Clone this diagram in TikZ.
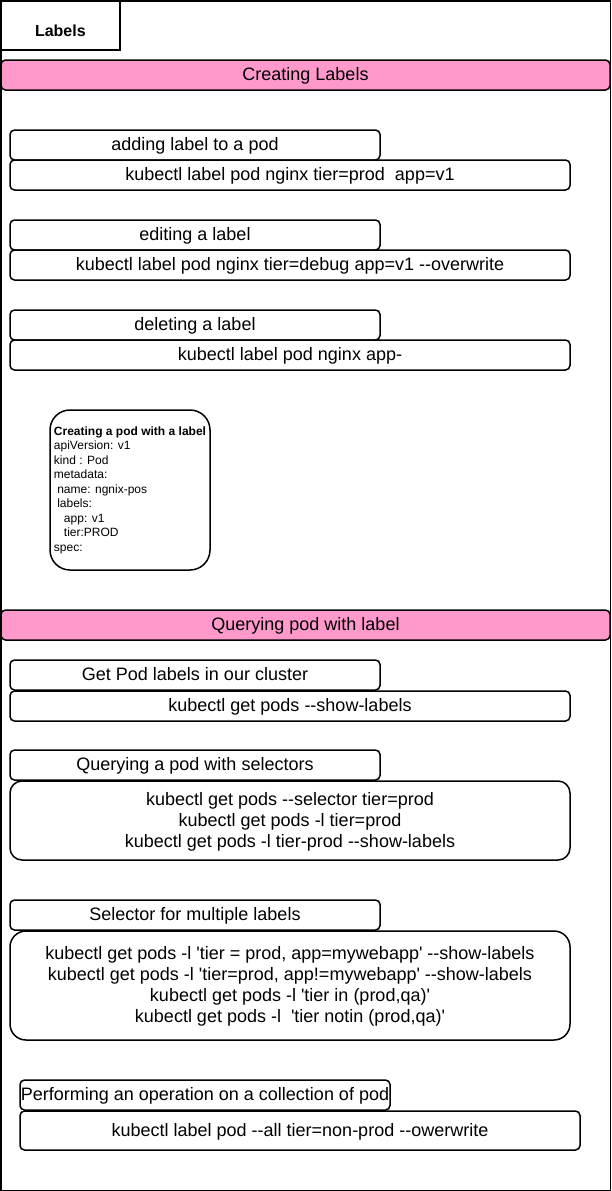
\documentclass[tikz,border=0pt]{standalone}
\usepackage{fontspec}
\setmainfont{Liberation Sans}
\definecolor{barpink}{HTML}{FF99CC}
\newcommand\hh{-\kern0pt-}
\newcommand\sq{\textquotesingle}
\begin{document}
\begin{tikzpicture}[x=1pt,y=-1pt,
  base/.style={draw, line width=1.5pt, inner sep=0pt, outer sep=0pt, anchor=north west,
               font=\fontsize{18}{21}\selectfont, align=center, text depth=2pt},
  hdr/.style={base, rounded corners=4.5pt, minimum height=30pt, minimum width=370pt},
  cmd/.style={base, rounded corners=4.5pt, minimum height=30pt, minimum width=560pt},
  bigcmd/.style={base, rounded corners=12pt, minimum width=560pt},
  bar/.style={base, fill=barpink, rounded corners=4.5pt, minimum width=609pt, minimum height=30pt},
  podbox/.style={base, rounded corners=20pt, minimum width=160pt, minimum height=160pt,
               align=left, font=\fontsize{12}{14.5}\selectfont},
  titlebox/.style={base, minimum width=119.25pt, minimum height=49.25pt}
]
\useasboundingbox (0,0) rectangle (611,1191);
\node[draw, line width=1.5pt, inner sep=0pt, outer sep=0pt, anchor=north west,
      minimum width=609.5pt, minimum height=1189.5pt] (frame) at (0.75,0.75) {};
\node[titlebox, label={[yshift=-5pt, font=\fontsize{16}{19}\selectfont\bfseries]center:Labels}] (title) at (0.75,0.75) {};

\node[bar] (bar1) at (1,60) {Creating Labels};

\node[hdr] (h1) at (10,130) {adding label to a pod};
\node[cmd] (c1) at (10,160) {kubectl label pod nginx tier=prod\ \ app=v1};

\node[hdr] (h2) at (10,220) {editing a label};
\node[cmd] (c2) at (10,250) {kubectl label pod nginx tier=debug app=v1 \hh overwrite};

\node[hdr] (h3) at (10,310) {deleting a label};
\node[cmd] (c3) at (10,340) {kubectl label pod nginx app-};

\node[podbox] (pod) at (50,410) {\textbf{Creating a pod with a label}\\
apiVersion: v1\\
kind : Pod\\
metadata:\\
\hspace*{3.3pt}name: ngnix-pos\\
\hspace*{3.3pt}labels:\\
\hspace*{10pt}app: v1\\
\hspace*{10pt}tier:PROD\\
spec:};

\node[bar] (bar2) at (1,610) {Querying pod with label};

\node[hdr] (h4) at (10,660) {Get Pod labels in our cluster};
\node[cmd] (c4) at (10,691) {kubectl get pods \hh show-labels};

\node[hdr] (h5) at (10,750) {Querying a pod with selectors};
\node[bigcmd, minimum height=79pt] (c5) at (10,781) {kubectl get pods \hh selector tier=prod\\
kubectl get pods -l tier=prod\\
kubectl get pods -l tier-prod \hh show-labels};

\node[hdr] (h6) at (10,900) {Selector for multiple labels};
\node[bigcmd, minimum height=109pt, rounded corners=16pt] (c6) at (10,931) {kubectl get pods -l \sq tier = prod, app=mywebapp\sq\ \hh show-labels\\
kubectl get pods -l \sq tier=prod, app!=mywebapp\sq\ \hh show-labels\\
kubectl get pods -l \sq tier in (prod,qa)\sq\\
kubectl get pods -l\ \ \sq tier notin (prod,qa)\sq};

\node[hdr] (h7) at (20,1080) {Performing an operation on a collection of pod};
\node[cmd, minimum height=39pt] (c7) at (20,1111) {kubectl label pod \hh all tier=non-prod \hh owerwrite};
\end{tikzpicture}
\end{document}
